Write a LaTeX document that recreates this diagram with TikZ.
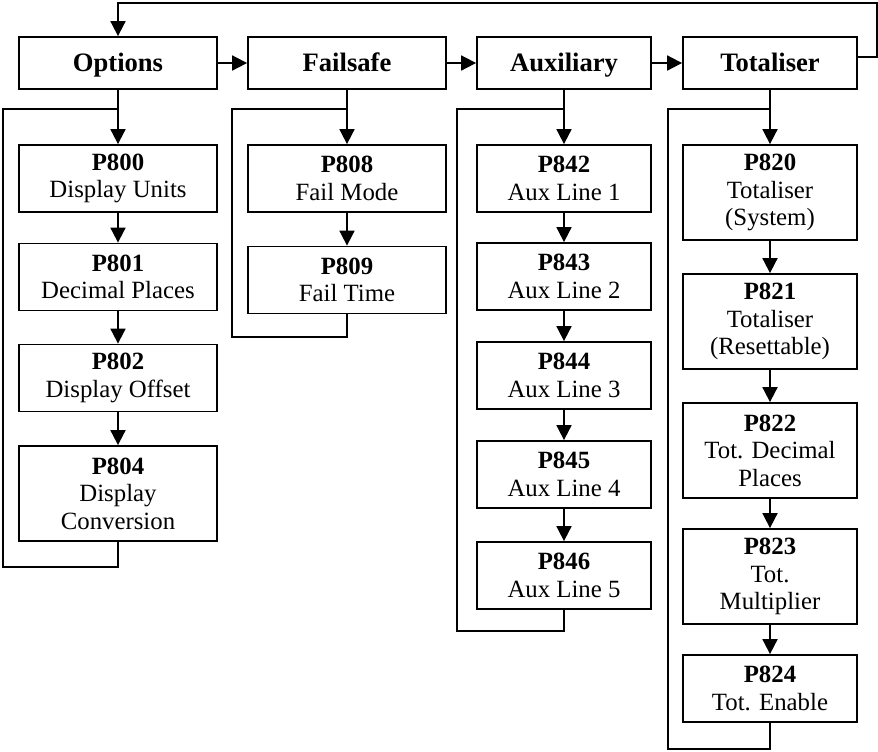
\documentclass[tikz,border=0pt]{standalone}
\usepackage{fontspec}
\setmainfont{Liberation Serif}
\usetikzlibrary{arrows.meta}

\tikzset{
  menubox/.style={draw,line width=0.9pt,minimum height=26pt,inner sep=0pt,
    text height=10pt,text depth=1.5pt,
    font=\fontsize{13.3}{16}\selectfont\bfseries},
  parbox/.style={draw,line width=0.9pt,inner sep=0pt,align=center,
    font=\fontsize{12.4}{13.8}\selectfont},
  wide/.style={minimum width=99pt},
  narrow/.style={minimum width=87pt},
  short/.style={minimum height=33.5pt},
  tall/.style={minimum height=47.5pt},
  flow/.style={line width=0.9pt,-{Triangle[length=7.5pt,width=7.5pt]}},
  loopline/.style={line width=0.9pt,line join=miter},
}

\begin{document}
\begin{tikzpicture}[x=0.5pt,y=-0.5pt]
  \useasboundingbox (0,0) rectangle (878,751);
  % menu row
  \node[menubox,wide] (opt) at (118,63) {Options};
  \node[menubox,wide] (fail) at (347,63) {Failsafe};
  \node[menubox,narrow] (aux) at (564,63) {Auxiliary};
  \node[menubox,narrow] (tot) at (770,63) {Totaliser};
  % options column
  \node[parbox,wide,short] (p800) at (118,178.5) {\textbf{P800}\\Display Units};
  \node[parbox,wide,short] (p801) at (118,277) {\textbf{P801}\\Decimal Places};
  \node[parbox,wide,short] (p802) at (118,378) {\textbf{P802}\\Display Offset};
  \node[parbox,wide,tall] (p804) at (118,493.5) {\textbf{P804}\\Display\\Conversion};
  % failsafe column
  \node[parbox,wide,short] (p808) at (347,178.5) {\textbf{P808}\\Fail Mode};
  \node[parbox,wide,short] (p809) at (347,280) {\textbf{P809}\\Fail Time};
  % auxiliary column
  \node[parbox,narrow,short] (p842) at (564,178.5) {\textbf{P842}\\Aux Line 1};
  \node[parbox,narrow,short] (p843) at (564,276.5) {\textbf{P843}\\Aux Line 2};
  \node[parbox,narrow,short] (p844) at (564,375.5) {\textbf{P844}\\Aux Line 3};
  \node[parbox,narrow,short] (p845) at (564,474.5) {\textbf{P845}\\Aux Line 4};
  \node[parbox,narrow,short] (p846) at (564,575.5) {\textbf{P846}\\Aux Line 5};
  % totaliser column
  \node[parbox,narrow,tall] (p820) at (770,192.5) {\textbf{P820}\\Totaliser\\(System)};
  \node[parbox,narrow,tall] (p821) at (770,321.5) {\textbf{P821}\\Totaliser\\(Resettable)};
  \node[parbox,narrow,tall] (p822) at (770,450.5) {\textbf{P822}\\Tot. Decimal\\Places};
  \node[parbox,narrow,tall] (p823) at (770,576.5) {\textbf{P823}\\Tot.\\Multiplier};
  \node[parbox,narrow,short] (p824) at (770,688.5) {\textbf{P824}\\Tot. Enable};
  % loop corners
  \coordinate (optj) at (118,109);
  \coordinate (failj) at (347,109);
  \coordinate (auxj) at (564,109);
  \coordinate (totj) at (770,109);
  \coordinate (optl) at (3,567);
  \coordinate (faill) at (232,337);
  \coordinate (auxl) at (457,631);
  \coordinate (totl) at (668,749);
  \coordinate (topr) at (877,3);
  % arrows
  \foreach \a/\b in {opt/fail,fail/aux,aux/tot} {
    \draw[flow] (\a) -- (\b);
  }
  \foreach \a/\b in {opt/p800,p800/p801,p801/p802,p802/p804,fail/p808,p808/p809,
      aux/p842,p842/p843,p843/p844,p844/p845,p845/p846,
      tot/p820,p820/p821,p821/p822,p822/p823,p823/p824} {
    \draw[flow] (\a) -- (\b);
  }
  \draw[flow] ([yshift=3pt]tot.east) -| (topr) -| (opt.north);
  % return loops
  \draw[loopline] (p804.south) |- (optl) |- (optj);
  \draw[loopline] (p809.south) |- (faill) |- (failj);
  \draw[loopline] (p846.south) |- (auxl) |- (auxj);
  \draw[loopline] (p824.south) |- (totl) |- (totj);
\end{tikzpicture}
\end{document}
